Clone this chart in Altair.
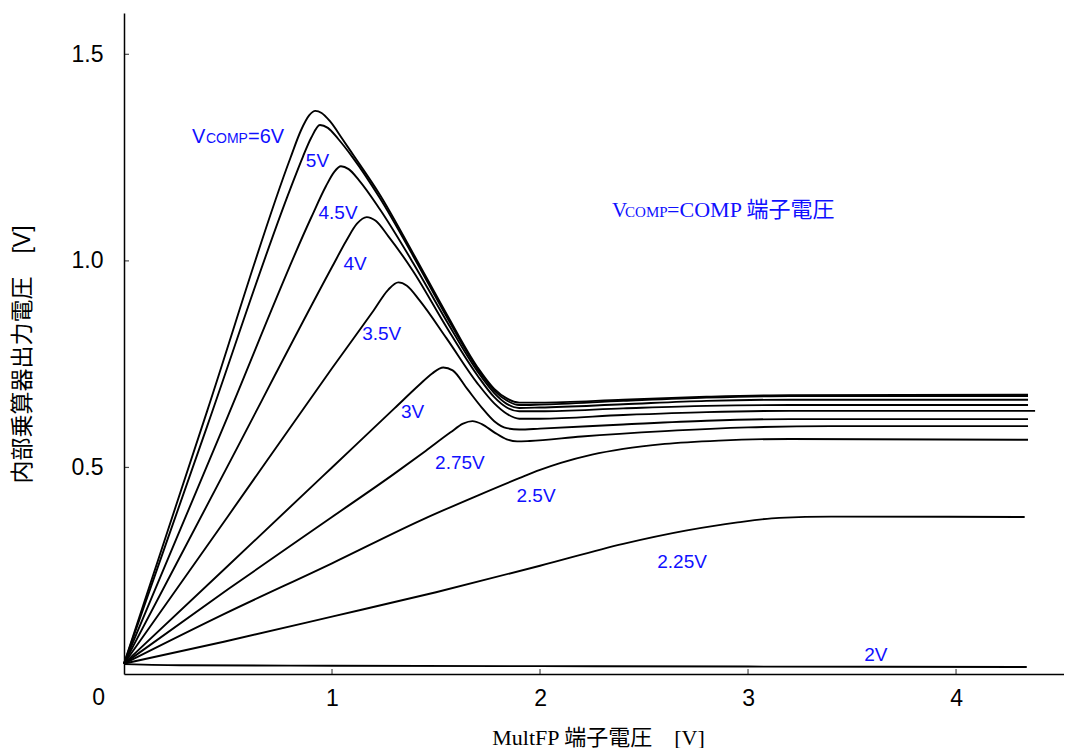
import altair as alt
import pandas as pd

# ---------------- data ----------------
X_6V = [0, 0.4, 0.8, 0.85, 0.89, 0.92, 0.95, 0.99, 1.05, 1.1, 1.23, 1.39, 1.55, 1.70, 1.78, 1.84, 1.90, 2.0, 2.4, 2.8, 3.2, 4.346]
Y_6V = [0.025, 0.637, 1.249, 1.315, 1.352, 1.363, 1.358, 1.338, 1.295, 1.258, 1.16, 1.018, 0.872, 0.742, 0.69, 0.667, 0.657, 0.657, 0.664, 0.671, 0.675, 0.676]

X_5V = [0, 0.4, 0.80, 0.86, 0.90, 0.942, 0.98, 1.03, 1.1, 1.23, 1.39, 1.55, 1.70, 1.78, 1.84, 1.90, 2.0, 2.4, 2.8, 3.2, 4.346]
Y_5V = [0.025, 0.60, 1.175, 1.252, 1.298, 1.329, 1.322, 1.295, 1.250, 1.152, 1.012, 0.866, 0.738, 0.686, 0.662, 0.651, 0.652, 0.661, 0.669, 0.673, 0.673]

X_45V = [0, 0.5, 0.90, 0.97, 1.01, 1.043, 1.08, 1.13, 1.23, 1.39, 1.55, 1.70, 1.78, 1.84, 1.90, 2.0, 2.4, 2.8, 3.2, 4.346]
Y_45V = [0.025, 0.625, 1.105, 1.18, 1.215, 1.229, 1.222, 1.195, 1.125, 0.995, 0.855, 0.732, 0.68, 0.654, 0.644, 0.645, 0.653, 0.661, 0.664, 0.664]

X_4V = [0, 0.5, 1.0, 1.07, 1.12, 1.167, 1.21, 1.27, 1.39, 1.55, 1.70, 1.78, 1.84, 1.90, 2.0, 2.4, 2.8, 3.2, 4.346]
Y_4V = [0.025, 0.505, 0.985, 1.05, 1.09, 1.106, 1.097, 1.06, 0.975, 0.840, 0.722, 0.670, 0.645, 0.636, 0.636, 0.643, 0.649, 0.651, 0.651]

X_35V = [0, 0.5, 1.0, 1.2, 1.27, 1.319, 1.36, 1.42, 1.55, 1.70, 1.78, 1.84, 1.90, 2.0, 2.4, 2.8, 3.2, 4.38]
Y_35V = [0.025, 0.382, 0.74, 0.88, 0.93, 0.948, 0.94, 0.905, 0.813, 0.703, 0.655, 0.630, 0.618, 0.618, 0.627, 0.634, 0.637, 0.637]

X_3V = [0, 0.5, 1.0, 1.3, 1.42, 1.48, 1.535, 1.58, 1.65, 1.72, 1.78, 1.84, 1.90, 2.0, 2.4, 2.8, 3.2, 4.346]
Y_3V = [0.025, 0.262, 0.50, 0.643, 0.70, 0.727, 0.742, 0.735, 0.69, 0.645, 0.612, 0.595, 0.592, 0.594, 0.604, 0.613, 0.617, 0.617]

X_275V = [0, 0.5, 1.0, 1.3, 1.45, 1.57, 1.63, 1.675, 1.72, 1.78, 1.84, 1.89, 1.95, 2.2, 2.6, 3.0, 3.4, 4.346]
Y_275V = [0.025, 0.205, 0.38, 0.485, 0.54, 0.585, 0.606, 0.612, 0.605, 0.585, 0.568, 0.563, 0.564, 0.575, 0.588, 0.597, 0.600, 0.600]

X_25V = [0, 0.48, 1.0, 1.44, 1.7, 1.9, 2.0, 2.1, 2.25, 2.4, 2.6, 2.86, 3.2, 4.346]
Y_25V = [0.025, 0.145, 0.268, 0.375, 0.432, 0.474, 0.494, 0.511, 0.531, 0.545, 0.557, 0.565, 0.569, 0.567]

X_225V = [0, 0.48, 1.01, 1.5, 2.0, 2.4, 2.7, 2.95, 3.15, 3.4, 4.33]
Y_225V = [0.025, 0.078, 0.140, 0.198, 0.262, 0.315, 0.347, 0.367, 0.378, 0.381, 0.380]

X_2V = [0, 0.3, 1.0, 2.0, 3.0, 4.34]
Y_2V = [0.024, 0.021, 0.020, 0.019, 0.018, 0.017]

SERIES = [
    ("6V", X_6V, Y_6V), ("5V", X_5V, Y_5V), ("4.5V", X_45V, Y_45V),
    ("4V", X_4V, Y_4V), ("3.5V", X_35V, Y_35V), ("3V", X_3V, Y_3V),
    ("2.75V", X_275V, Y_275V), ("2.5V", X_25V, Y_25V),
    ("2.25V", X_225V, Y_225V), ("2V", X_2V, Y_2V),
]

# curve labels
LABEL_TEXT = ["5V", "4.5V", "4V", "3.5V", "3V", "2.75V", "2.5V", "2.25V", "2V"]
LABEL_X = [0.930, 1.029, 1.111, 1.239, 1.387, 1.615, 1.981, 2.683, 3.614]
LABEL_Y = [1.242, 1.117, 0.992, 0.822, 0.634, 0.510, 0.431, 0.271, 0.046]

X_TICKS = [1, 2, 3, 4]
Y_TICKS = [0.5, 1.0, 1.5]

rows = []
for name, xs, ys in SERIES:
    for i, (xv, yv) in enumerate(zip(xs, ys)):
        rows.append({"series": name, "x": xv, "y": yv, "i": i})
df = pd.DataFrame(rows)

SANS = "Liberation Sans, Arial, Noto Sans CJK JP"
SERIF = "Liberation Serif, Times New Roman, Noto Sans CJK JP"
BLUE = "#1010ff"

xscale = alt.Scale(domain=[0, 4.519], nice=False, zero=False)
yscale = alt.Scale(domain=[0, 1.6], nice=False, zero=False)

lines = alt.Chart(df).mark_line(color="black", strokeWidth=1.9, interpolate="monotone").encode(
    x=alt.X("x:Q", scale=xscale, axis=alt.Axis(
        values=X_TICKS, format="d", title="MultFP 端子電圧　[V]",
        titleFont=SERIF, titleFontSize=22, titleFontWeight="normal", titleColor="black",
        titleBaseline="middle", titleY=63, titleX=474,
        labelFont=SANS, labelFontSize=23, labelColor="black", labelPadding=13,
        ticks=False, grid=False, domainColor="black", domainWidth=1.5)),
    y=alt.Y("y:Q", scale=yscale, axis=alt.Axis(
        values=Y_TICKS, format=".1f", title="内部乗算器出力電圧　[V]",
        titleFont=SANS, titleFontSize=23, titleFontWeight="normal", titleColor="black",
        titleAngle=270, titleBaseline="middle", titleX=-102, titleY=341,
        labelFont=SANS, labelFontSize=23, labelColor="black", labelPadding=21,
        ticks=False, grid=False, domainColor="black", domainWidth=1.5)),
    detail="series:N",
    order="i:Q",
)

# inward ticks
xt = alt.Chart(pd.DataFrame({"x": X_TICKS})).mark_tick(
    orient="vertical", size=5, thickness=1.2, color="black", yOffset=-2.5
).encode(x=alt.X("x:Q", scale=xscale), y=alt.datum(0, scale=yscale))
yt = alt.Chart(pd.DataFrame({"y": Y_TICKS})).mark_tick(
    orient="horizontal", size=5, thickness=1.2, color="black", xOffset=2.5
).encode(y=alt.Y("y:Q", scale=yscale), x=alt.datum(0, scale=xscale))

zero = alt.Chart(pd.DataFrame({"x": [0], "y": [0], "t": ["0"]})).mark_text(
    font=SANS, fontSize=23, color="black", align="right", baseline="top", dx=-19, dy=13
).encode(x=alt.X("x:Q", scale=xscale), y=alt.Y("y:Q", scale=yscale), text="t:N")

labels = alt.Chart(pd.DataFrame({"x": LABEL_X, "y": LABEL_Y, "t": LABEL_TEXT})).mark_text(
    font=SANS, fontSize=19, color=BLUE, align="center", baseline="middle"
).encode(x=alt.X("x:Q", scale=xscale), y=alt.Y("y:Q", scale=yscale), text="t:N")

# "VCOMP=6V" (small caps COMP)
V6_TEXT = ["V", "COMP", "=6V"]
V6_X = [0.327, 0.394, 0.596]
V6_Y = [1.286, 1.286, 1.286]
V6_SIZE = [20, 14, 20]
v6 = alt.Chart(pd.DataFrame({"x": V6_X, "y": V6_Y, "t": V6_TEXT, "s": V6_SIZE})).mark_text(
    font=SANS, color=BLUE, align="left", baseline="alphabetic"
).encode(x=alt.X("x:Q", scale=xscale), y=alt.Y("y:Q", scale=yscale), text="t:N",
         size=alt.Size("s:Q", scale=None, legend=None))

# "VCOMP=COMP 端子電圧"
NOTE_TEXT = ["V", "COMP", "=COMP 端子電圧"]
NOTE_X = [2.346, 2.409, 2.611]
NOTE_Y = [1.106, 1.106, 1.106]
NOTE_SIZE = [21, 15, 22]
note = alt.Chart(pd.DataFrame({"x": NOTE_X, "y": NOTE_Y, "t": NOTE_TEXT, "s": NOTE_SIZE})).mark_text(
    font=SERIF, color=BLUE, align="left", baseline="alphabetic"
).encode(x=alt.X("x:Q", scale=xscale), y=alt.Y("y:Q", scale=yscale), text="t:N",
         size=alt.Size("s:Q", scale=None, legend=None))

chart = alt.layer(lines, xt, yt, zero, labels, v6, note).properties(
    width=940, height=661,
    padding={"left": 3, "top": 5, "right": 0, "bottom": 0},
    background="white",
).configure_view(stroke=None)

chart.save("out.html", embed_options={"renderer": "svg", "actions": False})
